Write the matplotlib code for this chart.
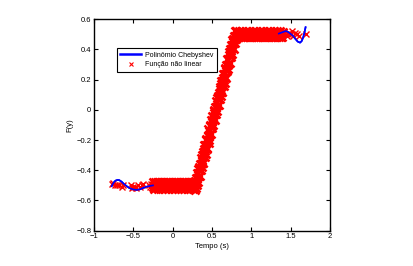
import matplotlib
matplotlib.use("Agg")
import matplotlib.pyplot as plt

plt.rcParams['font.family'] = ['Liberation Sans', 'DejaVu Sans']

# --- Red samples: "Função não linear" ---
left_sparse_x = [-0.775, -0.755, -0.73, -0.71, -0.68, -0.65, -0.63, -0.53, -0.52, -0.50,
                 -0.48, -0.46, -0.44, -0.42, -0.395, -0.38, -0.30, -0.29, -0.27]
left_sparse_y = [-0.49, -0.486, -0.50, -0.497, -0.50, -0.508, -0.50, -0.50, -0.519, -0.51,
                 -0.508, -0.52, -0.50, -0.51, -0.50, -0.49, -0.50, -0.51, -0.49]

low_x = [-0.250, -0.245, -0.240, -0.235, -0.230, -0.225, -0.220, -0.215, -0.210, -0.205,
         -0.200, -0.195, -0.190, -0.185, -0.180, -0.175, -0.170, -0.165, -0.160, -0.155,
         -0.150, -0.145, -0.140, -0.135, -0.130, -0.125, -0.120, -0.115, -0.110, -0.105,
         -0.100, -0.095, -0.090, -0.085, -0.080, -0.075, -0.070, -0.065, -0.060, -0.055,
         -0.050, -0.045, -0.040, -0.035, -0.030, -0.025, -0.020, -0.015, -0.010, -0.005,
         0.000, 0.005, 0.010, 0.015, 0.020, 0.025, 0.030, 0.035, 0.040, 0.045,
         0.050, 0.055, 0.060, 0.065, 0.070, 0.075, 0.080, 0.085, 0.090, 0.095,
         0.100, 0.105, 0.110, 0.115, 0.120, 0.125, 0.130, 0.135, 0.140, 0.145,
         0.150, 0.155, 0.160, 0.165, 0.170, 0.175, 0.180, 0.185, 0.190, 0.195,
         0.200, 0.205, 0.210, 0.215, 0.220, 0.225, 0.230, 0.235, 0.240, 0.245,
         0.250, 0.255, 0.260, 0.265, 0.270, 0.275, 0.280]
low_y = [-0.48, -0.51, -0.50, -0.525, -0.49, -0.52, -0.475, -0.50, -0.51, -0.48,
         -0.52, -0.49, -0.50, -0.475, -0.525, -0.51, -0.48, -0.50, -0.49, -0.52,
         -0.51, -0.475, -0.50, -0.525, -0.48, -0.49, -0.52, -0.50, -0.51, -0.48,
         -0.525, -0.49, -0.50, -0.475, -0.52, -0.51, -0.48, -0.50, -0.49, -0.525,
         -0.51, -0.48, -0.50, -0.52, -0.475, -0.49, -0.51, -0.50, -0.525, -0.48,
         -0.52, -0.49, -0.50, -0.475, -0.51, -0.525, -0.48, -0.50, -0.49, -0.52,
         -0.51, -0.475, -0.50, -0.525, -0.48, -0.49, -0.52, -0.50, -0.51, -0.48,
         -0.525, -0.49, -0.50, -0.475, -0.52, -0.51, -0.48, -0.50, -0.49, -0.525,
         -0.51, -0.48, -0.50, -0.52, -0.475, -0.49, -0.51, -0.50, -0.525, -0.48,
         -0.52, -0.49, -0.50, -0.475, -0.51, -0.525, -0.48, -0.50, -0.49, -0.52,
         -0.51, -0.475, -0.50, -0.525, -0.48, -0.49, -0.50]

ramp_x = [0.284, 0.288, 0.292, 0.296, 0.300, 0.304, 0.308, 0.312, 0.316, 0.320,
          0.324, 0.328, 0.332, 0.336, 0.340, 0.344, 0.348, 0.352, 0.356, 0.360,
          0.364, 0.368, 0.372, 0.376, 0.380, 0.384, 0.388, 0.392, 0.396, 0.400,
          0.404, 0.408, 0.412, 0.416, 0.420, 0.424, 0.428, 0.432, 0.436, 0.440,
          0.444, 0.448, 0.452, 0.456, 0.460, 0.464, 0.468, 0.472, 0.476, 0.480,
          0.484, 0.488, 0.492, 0.496, 0.500, 0.504, 0.508, 0.512, 0.516, 0.520,
          0.524, 0.528, 0.532, 0.536, 0.540, 0.544, 0.548, 0.552, 0.556, 0.560,
          0.564, 0.568, 0.572, 0.576, 0.580, 0.584, 0.588, 0.592, 0.596, 0.600,
          0.604, 0.608, 0.612, 0.616, 0.620, 0.624, 0.628, 0.632, 0.636, 0.640,
          0.644, 0.648, 0.652, 0.656, 0.660, 0.664, 0.668, 0.672, 0.676, 0.680,
          0.684, 0.688, 0.692, 0.696, 0.700, 0.704, 0.708, 0.712, 0.716, 0.720,
          0.724, 0.728, 0.732, 0.736, 0.740, 0.744, 0.748, 0.752, 0.756, 0.760,
          0.764, 0.768, 0.772, 0.776, 0.780, 0.784, 0.788, 0.792, 0.796, 0.800,
          0.804, 0.808, 0.812]
ramp_y = [-0.47, -0.53, -0.49, -0.52, -0.45, -0.48, -0.42, -0.50, -0.45, -0.42,
          -0.48, -0.39, -0.38, -0.44, -0.39, -0.44, -0.36, -0.39, -0.32, -0.40,
          -0.36, -0.33, -0.38, -0.30, -0.28, -0.35, -0.30, -0.35, -0.26, -0.29,
          -0.23, -0.31, -0.26, -0.23, -0.29, -0.20, -0.19, -0.25, -0.20, -0.26,
          -0.17, -0.20, -0.13, -0.22, -0.17, -0.14, -0.20, -0.11, -0.10, -0.16,
          -0.11, -0.16, -0.07, -0.11, -0.04, -0.12, -0.07, -0.05, -0.10, -0.01,
          0.00, -0.06, -0.02, -0.07, 0.02, -0.01, 0.06, -0.03, 0.02, 0.05,
          -0.01, 0.08, 0.09, 0.03, 0.08, 0.03, 0.11, 0.08, 0.15, 0.07,
          0.12, 0.14, 0.09, 0.17, 0.19, 0.12, 0.17, 0.12, 0.21, 0.18,
          0.24, 0.16, 0.21, 0.24, 0.18, 0.27, 0.28, 0.22, 0.27, 0.21,
          0.30, 0.27, 0.34, 0.26, 0.30, 0.33, 0.27, 0.36, 0.38, 0.31,
          0.36, 0.31, 0.40, 0.36, 0.43, 0.35, 0.40, 0.43, 0.37, 0.46,
          0.47, 0.41, 0.45, 0.40, 0.49, 0.46, 0.52, 0.44, 0.49, 0.52,
          0.47, 0.52, 0.50]

high_x = [0.815, 0.820, 0.825, 0.830, 0.835, 0.840, 0.845, 0.850, 0.855, 0.860,
          0.865, 0.870, 0.875, 0.880, 0.885, 0.890, 0.895, 0.900, 0.905, 0.910,
          0.915, 0.920, 0.925, 0.930, 0.935, 0.940, 0.945, 0.950, 0.955, 0.960,
          0.965, 0.970, 0.975, 0.980, 0.985, 0.990, 0.995, 1.000, 1.005, 1.010,
          1.015, 1.020, 1.025, 1.030, 1.035, 1.040, 1.045, 1.050, 1.055, 1.060,
          1.065, 1.070, 1.075, 1.080, 1.085, 1.090, 1.095, 1.100, 1.105, 1.110,
          1.115, 1.120, 1.125, 1.130, 1.135, 1.140, 1.145, 1.150, 1.155, 1.160,
          1.165, 1.170, 1.175, 1.180, 1.185, 1.190, 1.195, 1.200, 1.205, 1.210,
          1.215, 1.220, 1.225, 1.230, 1.235, 1.240, 1.245, 1.250, 1.255, 1.260,
          1.265, 1.270, 1.275, 1.280, 1.285, 1.290, 1.295, 1.300, 1.305, 1.310,
          1.315, 1.320, 1.325, 1.330, 1.335, 1.340, 1.345, 1.350, 1.355, 1.360,
          1.365, 1.370, 1.375, 1.380, 1.385, 1.390, 1.395, 1.400]
high_y = [0.49, 0.515, 0.50, 0.48, 0.51, 0.495, 0.52, 0.485, 0.50, 0.51,
          0.48, 0.515, 0.49, 0.505, 0.52, 0.485, 0.50, 0.51, 0.49, 0.48,
          0.515, 0.50, 0.485, 0.52, 0.495, 0.51, 0.48, 0.50, 0.515, 0.49,
          0.505, 0.485, 0.52, 0.50, 0.48, 0.51, 0.495, 0.515, 0.49, 0.50,
          0.48, 0.52, 0.505, 0.485, 0.51, 0.50, 0.49, 0.515, 0.48, 0.50,
          0.52, 0.495, 0.485, 0.51, 0.50, 0.48, 0.515, 0.49, 0.505, 0.52,
          0.485, 0.50, 0.51, 0.48, 0.495, 0.515, 0.50, 0.49, 0.52, 0.485,
          0.51, 0.50, 0.48, 0.515, 0.495, 0.505, 0.52, 0.49, 0.485, 0.51,
          0.50, 0.48, 0.515, 0.49, 0.52, 0.505, 0.485, 0.50, 0.51, 0.495,
          0.48, 0.515, 0.50, 0.49, 0.52, 0.485, 0.51, 0.505, 0.48, 0.50,
          0.515, 0.49, 0.52, 0.485, 0.50, 0.51, 0.495, 0.48, 0.515, 0.50,
          0.49, 0.52, 0.485, 0.505, 0.51, 0.48, 0.50, 0.515]

right_sparse_x = [1.42, 1.45, 1.47, 1.48, 1.50, 1.52, 1.53, 1.56, 1.58, 1.61, 1.69]
right_sparse_y = [0.50, 0.49, 0.50, 0.51, 0.50, 0.52, 0.49, 0.51, 0.50, 0.49, 0.50]

# --- Blue line: "Polinômio Chebyshev" ---
cheb_x = [-0.775, -0.76, -0.74, -0.72, -0.70, -0.68, -0.65, -0.62, -0.58, -0.54,
          -0.50, -0.46, -0.42, -0.38, -0.34, -0.30, -0.25, -0.10, 0.10, 0.29,
          0.55, 0.80, 1.00, 1.20, 1.35, 1.40, 1.44, 1.47, 1.50, 1.53,
          1.56, 1.59, 1.62, 1.64, 1.66, 1.675, 1.69]
cheb_y = [-0.505, -0.49, -0.475, -0.467, -0.464, -0.465, -0.475, -0.49, -0.507, -0.52,
          -0.527, -0.53, -0.527, -0.518, -0.51, -0.505, -0.50, -0.50, -0.50, -0.50,
          0.00, 0.50, 0.50, 0.50, 0.505, 0.515, 0.522, 0.515, 0.503, 0.49,
          0.47, 0.452, 0.445, 0.455, 0.48, 0.51, 0.547]

x_ticks = [-1, -0.5, 0, 0.5, 1, 1.5, 2]
x_ticklabels = ['\u22121', '\u22120.5', '0', '0.5', '1', '1.5', '2']
y_ticks = [-0.8, -0.6, -0.4, -0.2, 0, 0.2, 0.4, 0.6]
y_ticklabels = ['\u22120.8', '\u22120.6', '\u22120.4', '\u22120.2', '0', '0.2', '0.4', '0.6']

fig = plt.figure(figsize=(4.14, 2.66), dpi=100)
ax = fig.add_axes([0.227, 0.1327, 0.570, 0.795])

dense_x = low_x + ramp_x + high_x
dense_y = low_y + ramp_y + high_y
sparse_x = left_sparse_x + right_sparse_x
sparse_y = left_sparse_y + right_sparse_y

ax.plot(cheb_x, cheb_y, color='#0000ff', lw=1.2, label='Polinômio Chebyshev', zorder=2)
ax.plot(sparse_x, sparse_y, linestyle='none', marker='x', color='#ff0000', ms=4, mew=1.0,
        label='Função não linear', zorder=3)
ax.plot(dense_x, dense_y, linestyle='none', marker='x', color='#ff0000', ms=5.5, mew=1.8,
        zorder=3)
# the polynomial stays visible over the sparse samples at both ends
ax.plot(cheb_x[:17], cheb_y[:17], color='#0000ff', lw=1.2, zorder=4)
ax.plot(cheb_x[24:], cheb_y[24:], color='#0000ff', lw=1.2, zorder=4)

ax.set_xlim(-1, 2)
ax.set_ylim(-0.8, 0.6)
ax.set_xticks(x_ticks)
ax.set_xticklabels(x_ticklabels)
ax.set_yticks(y_ticks)
ax.set_yticklabels(y_ticklabels)
ax.tick_params(direction='in', length=3, width=0.8, labelsize=5.5, top=True, right=True,
               pad=2)
for s in ax.spines.values():
    s.set_linewidth(1.0)

ax.set_xlabel('Tempo (s)', fontsize=5.5, labelpad=2)
ax.set_ylabel('F(y)', fontsize=5.5, labelpad=2)

leg = ax.legend(loc='upper left', bbox_to_anchor=(0.0975, 0.863), borderaxespad=0,
                fontsize=5.0, frameon=True, fancybox=False, edgecolor='black',
                framealpha=1, handlelength=3.0, handletextpad=0.5, borderpad=0.5,
                labelspacing=0.4)
leg.get_frame().set_linewidth(0.8)
leg.legend_handles[0].set_linewidth(1.8)
leg.legend_handles[1].set_markersize(3)
leg.legend_handles[1].set_markeredgewidth(0.8)

fig.savefig('out.png', dpi=100)
